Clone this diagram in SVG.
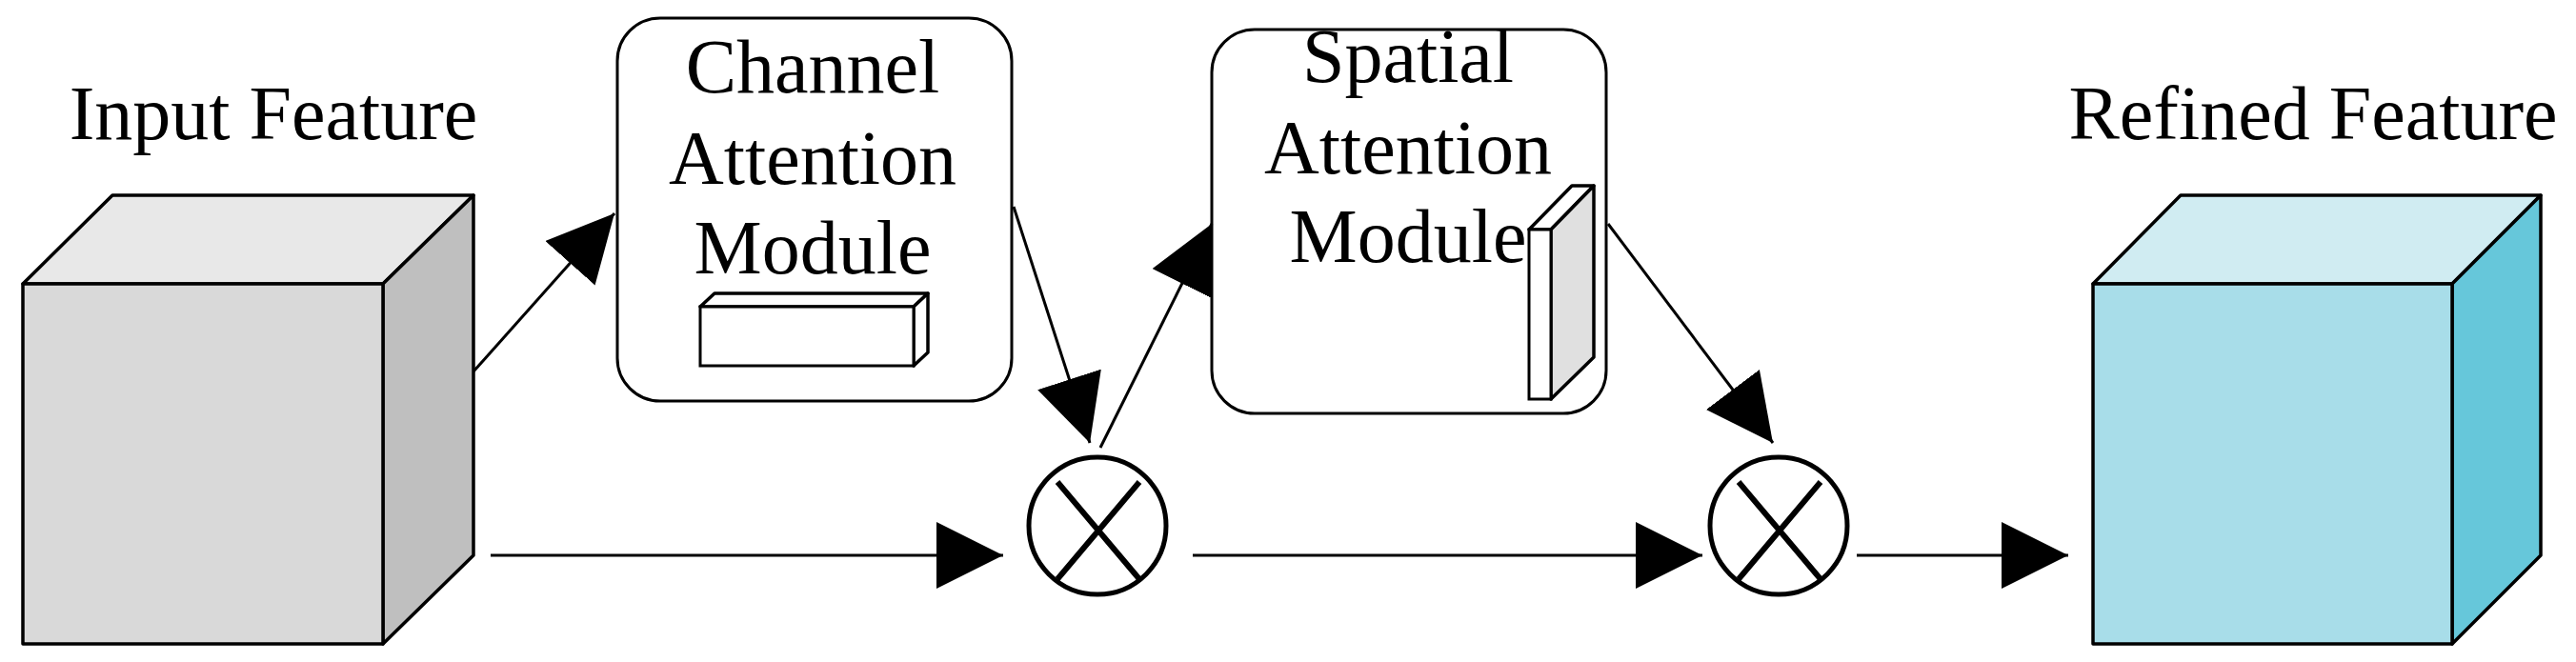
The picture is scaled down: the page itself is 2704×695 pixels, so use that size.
<svg xmlns="http://www.w3.org/2000/svg" width="2704" height="695" viewBox="0 0 2704 695">
<style>
.t{font-family:"Liberation Serif","Times New Roman",serif;font-size:80px;fill:#000;text-anchor:middle}
.e{stroke:#000;stroke-width:3.5;stroke-linejoin:round}
.c{stroke:#000;stroke-width:3;fill:none}
.m{fill:#fff;stroke:#000;stroke-width:5}
</style>
<defs>
<marker id="a" markerUnits="userSpaceOnUse" markerWidth="72" markerHeight="72" refX="70" refY="35" orient="auto"><path d="M0,0 L70,35 L0,70 Z" fill="#000"/></marker>
</defs>
<g id="input">
<polygon class="e" fill="#e8e8e8" points="24,298 118,205 497,205 402,298"/>
<polygon class="e" fill="#bfbfbf" points="402,298 497,205 497,583 402,676"/>
<rect class="e" fill="#d9d9d9" x="24" y="298" width="378" height="378"/>
<text class="t" x="287" y="146">Input Feature</text>
</g>
<g id="channel">
<rect x="648" y="19" width="414" height="402" rx="45" fill="#fff" stroke="#000" stroke-width="3"/>
<text class="t" x="853" y="97">Channel</text>
<text class="t" x="853" y="193">Attention</text>
<text class="t" x="853" y="287">Module</text>
<polygon class="e" fill="#fff" stroke-width="3" points="735,322 750,308 974,308 959,322"/>
<polygon class="e" fill="#fff" stroke-width="3" points="959,322 974,308 974,370 959,384"/>
<rect x="735" y="322" width="224" height="62" fill="#fff" stroke="#000" stroke-width="3"/>
</g>
<g id="spatial">
<rect x="1272" y="31" width="414" height="403" rx="45" fill="#fff" stroke="#000" stroke-width="3"/>
<text class="t" x="1478" y="86">Spatial</text>
<text class="t" x="1478" y="182">Attention</text>
<text class="t" x="1478" y="275">Module</text>
<polygon class="e" fill="#fff" stroke-width="3" points="1605,241 1650,195 1673,195 1628,241"/>
<polygon class="e" fill="#e0e0e0" stroke-width="3" points="1628,241 1673,195 1673,375 1628,419"/>
<rect x="1605" y="241" width="23" height="178" fill="#fff" stroke="#000" stroke-width="3"/>
</g>
<g id="mul1">
<circle class="m" cx="1152" cy="552" r="72"/>
<path d="M1110,506 L1196,608 M1196,506 L1110,608" stroke="#000" stroke-width="6"/>
</g>
<g id="mul2">
<circle class="m" cx="1867" cy="552" r="72"/>
<path d="M1825,506 L1911,608 M1911,506 L1825,608" stroke="#000" stroke-width="6"/>
</g>
<g id="refined">
<polygon class="e" fill="#d0ecf2" points="2197,298 2289,205 2667,205 2574,298"/>
<polygon class="e" fill="#66c7da" points="2574,298 2667,205 2667,583 2574,676"/>
<rect class="e" fill="#a8dde9" x="2197" y="298" width="377" height="378"/>
<text class="t" x="2428" y="146">Refined Feature</text>
</g>
<g id="connectors">
<line class="c" x1="497" y1="390" x2="645" y2="224" marker-end="url(#a)"/>
<line class="c" x1="1064" y1="217" x2="1144" y2="465" marker-end="url(#a)"/>
<line class="c" x1="1155" y1="470" x2="1272" y2="235" marker-end="url(#a)"/>
<line class="c" x1="1688" y1="235" x2="1861" y2="465" marker-end="url(#a)"/>
<line class="c" x1="515" y1="583" x2="1053" y2="583" marker-end="url(#a)"/>
<line class="c" x1="1252" y1="583" x2="1787" y2="583" marker-end="url(#a)"/>
<line class="c" x1="1949" y1="583" x2="2171" y2="583" marker-end="url(#a)"/>
</g>
</svg>
